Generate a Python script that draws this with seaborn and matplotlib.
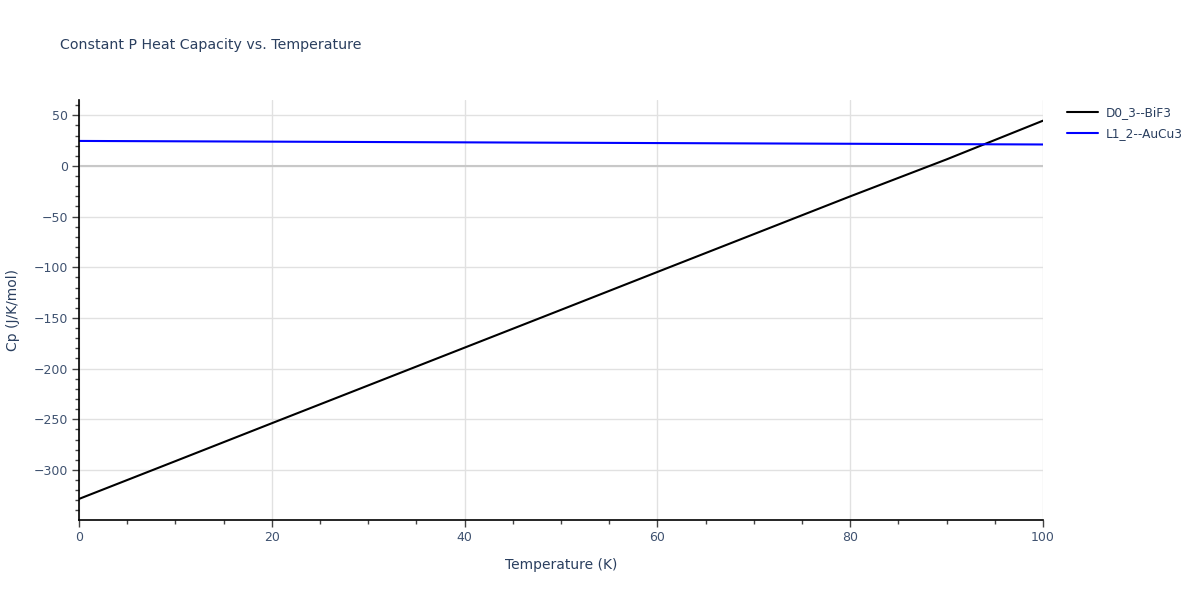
import pandas as pd
import matplotlib
matplotlib.use('Agg')
import matplotlib.pyplot as plt
import seaborn as sns
from matplotlib.ticker import MultipleLocator

# Values.
temperature = [0, 10, 20, 30, 40, 50, 60, 70, 80, 90, 100]
cp_bif3 = [-328.6, -291.3, -253.9, -216.6, -179.3, -142.0, -104.6, -67.3, -30.0, 6.5, 44.7]
cp_aucu3 = [24.7, 24.35, 24.0, 23.65, 23.3, 22.95, 22.6, 22.25, 21.9, 21.55, 21.2]
series_names = ['D0_3--BiF3', 'L1_2--AuCu3']
series_colors = ['black', 'blue']

df = pd.concat([
    pd.DataFrame({'T': temperature, 'Cp': cp_bif3, 'phase': series_names[0]}),
    pd.DataFrame({'T': temperature, 'Cp': cp_aucu3, 'phase': series_names[1]}),
])

sns.set_theme(style='white')
plt.rcParams['font.family'] = ['DejaVu Sans']
text_col = '#2a3f5f'

fig = plt.figure(figsize=(12, 6), dpi=100)
ax = fig.add_axes([79 / 1200, 80 / 600, (1043 - 79) / 1200, 420 / 600])

sns.lineplot(data=df, x='T', y='Cp', hue='phase', palette=dict(zip(series_names, series_colors)),
             linewidth=1.5, ax=ax, legend=False)

ax.set_xlim(0, 100)
ax.set_ylim(-349.4, 65.1)
ax.xaxis.set_major_locator(MultipleLocator(20))
ax.xaxis.set_minor_locator(MultipleLocator(5))
ax.yaxis.set_major_locator(MultipleLocator(50))
ax.yaxis.set_minor_locator(MultipleLocator(10))
ax.grid(True, which='major', color='#e1e1e1', linewidth=1)
ax.axhline(0, color='#c8c8c8', linewidth=1.5, zorder=1)

for side in ['top', 'right']:
    ax.spines[side].set_visible(False)
for side in ['left', 'bottom']:
    ax.spines[side].set_color('black')
    ax.spines[side].set_linewidth(1.2)

ax.tick_params(which='major', direction='out', length=5, width=1, color='#444444',
               labelsize=9, labelcolor='#3f5270', pad=3, left=True, bottom=True)
ax.tick_params(which='minor', direction='out', length=3, width=1, color='#444444', left=True, bottom=True)
ax.set_yticks([50, 0, -50, -100, -150, -200, -250, -300])
ax.set_yticklabels(['50', '0', '\u221250', '\u2212100', '\u2212150', '\u2212200', '\u2212250', '\u2212300'])

ax.set_xlabel('Temperature (K)', fontsize=10, color=text_col, labelpad=10)
ax.set_ylabel('Cp (J/K/mol)', fontsize=10, color=text_col, labelpad=10)

fig.text(60 / 1200, 1 - 45 / 600, 'Constant P Heat Capacity vs. Temperature', fontsize=10.2,
         color=text_col, va='center', ha='left')

handles = [plt.Line2D([], [], color=c, linewidth=1.5) for c in series_colors]
fig.legend(handles, series_names, loc='upper left', bbox_to_anchor=(1067 / 1200, 1 - 106 / 600),
           frameon=False, fontsize=8.7, labelcolor=text_col, handlelength=2.6, handletextpad=0.6,
           labelspacing=0.65, borderaxespad=0, borderpad=0)

fig.savefig('out.png', dpi=100)
